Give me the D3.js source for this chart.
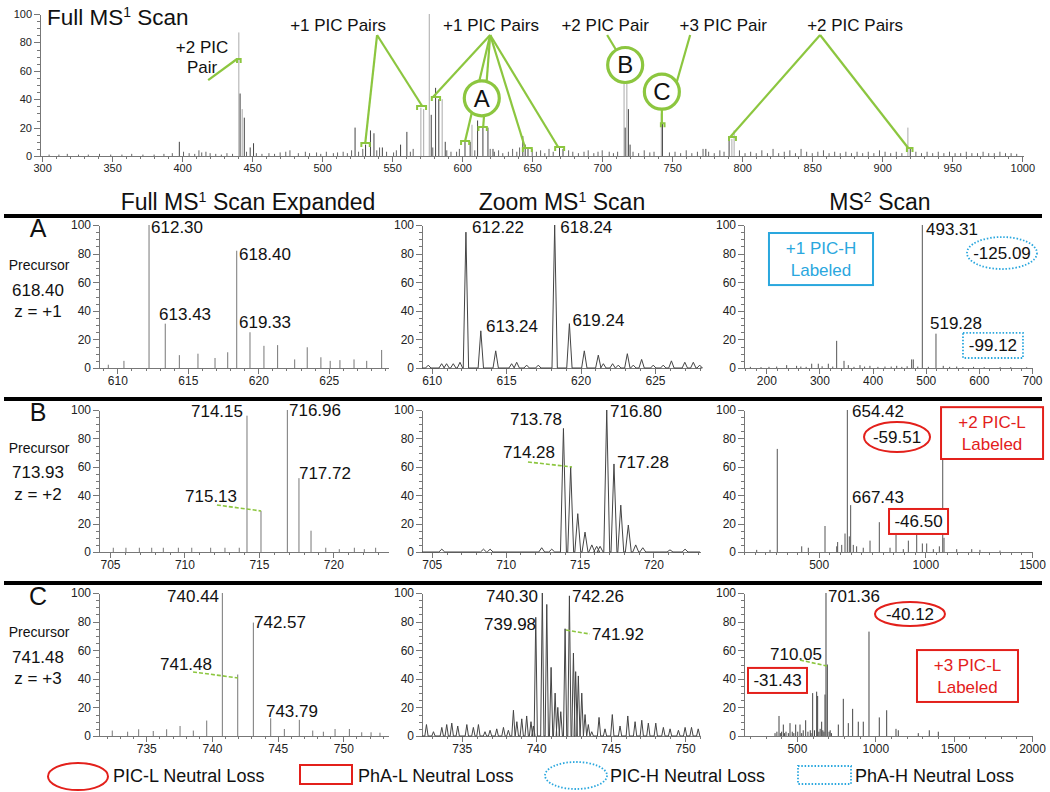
<!DOCTYPE html>
<html>
<head>
<meta charset="utf-8">
<script src="https://cdnjs.cloudflare.com/ajax/libs/d3/7.8.5/d3.min.js"></script>
<style>
body { margin: 0; background: #fff; }
text { font-family: "Liberation Sans", Arial, sans-serif; fill: #111; }
.axis path, .axis line { stroke: #777; shape-rendering: crispEdges; }
.axis text { fill: #222; }
</style>
</head>
<body>
<svg id="fig" width="1050" height="792"></svg>
<script>
// ---- data: [m/z, relative abundance] ----

// full MS1 scan (top)
var fullDark = [[398,10],[441.4,44],[444.4,27],[448.6,6],[451,9],[523.5,20],[531,8],[534.5,18],[537,16],
  [543,6],[556,8],[560.5,17],[577.9,29],[581,48],[583.3,40],[587.9,10],[602,10],[605.7,10],[611,25],
  [614.8,20],[618.4,20],[622,5],[643.3,14],[645,8],[647,5],[669.5,6],[672,5],[716.4,20],[718.7,33],
  [719.9,8],[743,24],[790.6,14],[774,5],[920,5]];
var fullLight = [[440.5,87],[442.9,33],[570.5,34],[572.5,33],[576.5,100],[585.7,40],[607,22],[715.6,72],
  [717.6,72],[742.2,30],[792.6,12],[794.2,18],[918.3,20]];
var fullNoise = [[305,1],[312,1],[318,1.5],[326,1],[333,1],[341,1.5],[349,1],[357,1],[364,1.5],[372,1],
  [380,1],[387,1.5],[393,2],[401,3],[405,2],[409,1.5],[412,4],[414,2.5],[417,3],[420,2],[424,1.5],[428,1],
  [432,2],[436,1.5],[446,3],[453,2],[457,1.5],[462,2],[466,1.5],[470,2.5],[474,3],[477,4],[483,2],[488,3],
  [491,2],[496,2.5],[499,1.5],[503,3],[508,2],[511,2.5],[515,3],[518,2],[521,4],[526,3],[529,5],[539,4],
  [541,6],[546,3],[551,2.5],[553,4],[563,3],[565,5],[579,6],[589,4],[592,3],[596,3],[598,5],[609,4],
  [620,5],[623,3],[626,4],[629,2],[633,3],[636,5],[639,3],[641,6],[650,5],[653,3],[656,4],[659,2],[662,5],
  [665,3],[676,4],[679,3],[683,2],[687,3],[690,4],[694,2],[697,3],[700,4],[705,3],[708,2],[711,3],[722,3],
  [726,2],[730,4],[734,2.5],[737,3],[748,2.5],[752,3],[756,2],[760,4],[764,2],[768,3],[772,5],[776,3],
  [780,2],[784,4],[787,3],[798,4],[802,2],[806,3],[810,2],[814,4],[818,2],[822,5],[826,2],[830,3],[834,4],
  [838,2],[842,5],[846,3],[850,2],[854,3],[858,4],[862,2],[866,3],[870,2],[874,3],[878,2],[882,3],[886,2],
  [890,3],[894,2],[898,4],[902,3],[906,2],[910,3],[914,2],[924,3],[928,2],[932,3],[936,2],[940,3],[944,2],
  [948,3],[952,2],[956,2],[960,3],[964,2],[968,2],[972,3],[976,2],[980,2],[984,3],[988,2],[992,2],[996,1.5]];

// row A (precursor 618.40, z = +1)
var a1Peaks = [[609.36,2.3],[610.47,5],[612.25,100],[613.40,31],[614.4,9],[615.72,10],[616.93,7],[617.83,11],
  [618.47,82],[619.41,25],[620.4,15.5],[621.37,16],[622.58,6],[623.47,14.5],[624.44,7.5],[625.1,5],
  [625.79,5.5],[626.79,6],[627.69,5],[628.75,12.6]];
var a2Peaks = [[609.77,2],[610.67,3],[611.0,3],[611.45,3],[611.9,4],[612.3,95],[613.3,26],[614.3,12],
  [615.37,3],[615.71,4],[616.38,2],[617.16,2],[618.26,100],[619.25,31],[620.25,12],[621.19,9],[621.53,3],
  [622.15,3],[622.53,2],[623.14,10],[623.54,2],[624.1,6],[624.88,2],[625.55,2],[626.1,5],[627.0,4],
  [627.57,4],[628.0,2]];
var a3Peaks = [[170,0.8],[190,0.6],[205,0.8],[219.5,1],[238.3,2],[257,1.5],[265,1],[275,0.8],[285.4,3],
  [297.8,3],[305,1.2],[316.7,3],[325,1],[332.4,19],[346.2,5],[354.3,2],[365,0.8],[376.3,2],[385,1],
  [395,1.5],[410,0.8],[423.3,1],[435,1],[445.4,1.5],[455,0.8],[465,1.2],[473.5,6],[476.6,6],[485,1],
  [493.6,100],[505,0.8],[519.3,24],[533,1.5],[545,0.8],[558.3,1],[570,0.6],[590,0.8],[610,0.6],[640,0.6],
  [660,0.6],[690,0.5]];

// row B (precursor 713.93, z = +2)
var b1Peaks = [[705.22,3],[706.07,3],[706.97,3],[707.8,3],[708.58,3],[709.59,3],[710.49,3],[711.76,3],
  [712.72,3],[713.68,3],[714.2,96],[715.14,29],[716.91,100],[717.69,52],[718.5,15],[719.49,3],[720.4,2],
  [721.41,3],[722.08,2],[722.84,3]];
var b2Peaks = [[705.68,2],[708.5,2],[708.95,2],[712.44,3],[713.12,2],[713.91,87],[714.4,60],[714.88,27],
  [715.37,14],[715.83,5],[716.16,4],[716.39,4],[716.84,100],[717.33,62],[717.79,33],[718.3,19],[718.8,5],
  [719.28,3],[721.12,1.5],[722.14,2]];
var b3Peaks = [[209.5,1.5],[272,1.5],[306,72.6],[420.5,4],[451.5,3],[529.7,18.3],[584.6,4],[589,7],[608,5],
  [623.5,13],[634.4,100],[643.7,11],[650,33],[662.4,5],[678,4],[709,3],[740.7,8],[784.3,21],[834.5,3],
  [862.6,12],[896.8,2],[920.4,8],[959.6,13],[986,6],[1006.4,6],[1037.5,2],[1065.7,4],[1081.5,85],
  [1087.6,10],[1147,2],[1217.5,2],[1256,1.5],[1350,1]];

// row C (precursor 741.48, z = +3)
var c1Peaks = [[732.41,3.8],[733.58,3],[734.42,4.7],[735.53,3.5],[736.55,4.7],[737.57,7],[738.58,3.8],
  [739.6,10.8],[740.79,100],[741.96,43],[743.15,79.3],[744.47,12.4],[745.51,4.9],[746.65,11.3],
  [747.67,3.8],[748.48,3],[749.37,4.9],[750.46,4.9],[751.4,2.6],[752.11,2.6],[752.79,2.3]];
var c2Peaks = [[732.63,8],[733.1,3],[733.66,6],[733.99,8],[734.33,9],[734.73,7],[735.34,8],[735.78,6],
  [736.12,8],[736.56,3],[736.9,4],[737.35,5],[737.8,6],[738.13,4],[738.47,18],[738.7,10],[739.03,12],
  [739.36,14],[739.65,10],[739.81,7],[739.97,83],[740.41,100],[740.71,92],[741.0,48],[741.27,30],
  [741.45,20],[741.65,17],[741.94,75],[742.23,98],[742.5,58],[742.65,45],[742.83,42],[743.06,30],
  [743.28,15],[743.5,8],[743.73,3],[744.22,13],[744.62,5],[745.11,15],[745.63,7],[746.15,14],[746.64,10],
  [747.09,11],[747.53,9],[748.03,9],[748.54,6],[748.99,5],[749.55,4],[750.0,6],[750.43,6],[750.88,5]];
var c3Peaks = [[360,2],[372,3],[385.4,14],[394,2],[402,3],[412.9,8],[420,2],[430,3],[445,2],[455.6,9],
  [470,3],[480,2],[491.8,8],[505,3],[519.4,8],[530,2],[540,4],[555.5,11],[570,3],[585,4],[590,2],
  [600.2,30],[612,4],[625.7,31],[632,28],[640,3],[648,5],[657.6,10],[665,4],[672,3],[678.9,29],[685.3,100],
  [693.8,50],[705,3],[712,4],[720,2],[763.9,8],[795.8,26],[827.7,9],[855.4,19],[891.4,10],[923.3,10],
  [959.7,73],[1025.4,13],[1072.6,18],[1132,5],[1146.7,4],[1274.3,2],[1344.5,4],[1402,3]];

// precursor info per row
var precursors = ["618.40", "713.93", "741.48"];
var charges = ["z = +1", "z = +2", "z = +3"];
var rowNames = ["A", "B", "C"];

var green = "#8cc63f", red = "#e3201b", cyan = "#2aa7de";

var svg = d3.select("#fig");
svg.append("rect").attr("width", 1050).attr("height", 792).attr("fill", "#fff");

function axes(g, x, y, major, minorStep, fs) {
  var d = x.domain();
  var minor = d3.range(Math.ceil(d[0] / minorStep) * minorStep, d[1] + 1e-9, minorStep);
  var gx = g.append("g").attr("class", "axis").attr("transform", "translate(0," + y(0) + ")");
  gx.call(d3.axisBottom(x).tickValues(minor).tickSize(3).tickFormat("").tickSizeOuter(0));
  gx.append("g").call(d3.axisBottom(x).tickValues(major).tickSize(6).tickSizeOuter(0).tickPadding(2)
      .tickFormat(d3.format("d")))
    .call(function (s) { s.select(".domain").remove(); })
    .selectAll("text").style("font-size", fs + "px");
  var gy = g.append("g").attr("class", "axis").attr("transform", "translate(" + x.range()[0] + ",0)");
  gy.call(d3.axisLeft(y).tickValues(d3.range(0, 101, 5)).tickSize(3).tickFormat("").tickSizeOuter(0));
  gy.append("g").call(d3.axisLeft(y).tickValues(d3.range(0, 101, 20)).tickSize(6).tickPadding(2))
    .call(function (s) { s.select(".domain").remove(); })
    .selectAll("text").style("font-size", fs + "px");
}

function sticks(g, x, y, data, color) {
  g.append("g").selectAll("line").data(data).join("line")
    .attr("x1", function (d) { return x(d[0]); })
    .attr("x2", function (d) { return x(d[0]); })
    .attr("y1", y(0))
    .attr("y2", function (d) { return y(d[1]); })
    .attr("stroke", color).attr("stroke-width", 1);
}

// profile trace: each peak drawn as a narrow triangle on the baseline
function profile(g, x, y, data, hw) {
  var pts = [[x.domain()[0], 0]];
  data.slice().sort(function (a, b) { return a[0] - b[0]; }).forEach(function (d) {
    pts.push([d[0] - hw, 0], [d[0], d[1]], [d[0] + hw, 0]);
  });
  pts.push([x.domain()[1], 0]);
  g.append("path").datum(pts)
    .attr("d", d3.line().x(function (d) { return x(d[0]); }).y(function (d) { return y(d[1]); }))
    .attr("fill", "none").attr("stroke", "#444").attr("stroke-width", 1);
}

function label(g, x, y, t, mz, v, anchor, fs, fill) {
  return g.append("text").attr("x", x(mz)).attr("y", y(v))
    .attr("text-anchor", anchor || "start")
    .style("font-size", (fs || 17) + "px").style("fill", fill || "#111").text(t);
}

function dashed(g, x, y, p, q) {
  g.append("line").attr("x1", x(p[0])).attr("y1", y(p[1])).attr("x2", x(q[0])).attr("y2", y(q[1]))
    .attr("stroke", green).attr("stroke-width", 1.6).attr("stroke-dasharray", "4,2");
}

function ellipse(g, cx, cy, rx, ry, color, dotted, t) {
  g.append("ellipse").attr("cx", cx).attr("cy", cy).attr("rx", rx).attr("ry", ry)
    .attr("fill", "#fff").attr("stroke", color).attr("stroke-width", dotted ? 1.8 : 2)
    .attr("stroke-dasharray", dotted ? "1.5,1.8" : null);
  if (t) g.append("text").attr("x", cx).attr("y", cy + 6).attr("text-anchor", "middle")
    .style("font-size", "17px").text(t);
}

function box(g, x0, y0, x1, y1, color, dotted, lines, tColor) {
  g.append("rect").attr("x", Math.min(x0, x1)).attr("y", Math.min(y0, y1))
    .attr("width", Math.abs(x1 - x0)).attr("height", Math.abs(y1 - y0))
    .attr("fill", "#fff").attr("stroke", color).attr("stroke-width", dotted ? 1.8 : 2)
    .attr("stroke-dasharray", dotted ? "1.5,1.8" : null);
  if (!lines) return;
  var cx = (x0 + x1) / 2, cy = (y0 + y1) / 2;
  if (lines.length === 1) {
    g.append("text").attr("x", cx).attr("y", cy + 6).attr("text-anchor", "middle")
      .style("font-size", "17px").style("fill", tColor || "#111").text(lines[0]);
  } else {
    lines.forEach(function (l, i) {
      g.append("text").attr("x", cx).attr("y", cy - 5 + i * 22).attr("text-anchor", "middle")
        .style("font-size", "17px").style("fill", tColor || "#111").text(l);
    });
  }
}

function supText(g, xp, yp, pre, sup, post, fs, anchor) {
  var t = g.append("text").attr("x", xp).attr("y", yp).attr("text-anchor", anchor || "start")
    .style("font-size", fs + "px");
  t.append("tspan").text(pre);
  t.append("tspan").attr("dy", -fs * 0.36).style("font-size", (fs * 0.62) + "px").text(sup);
  t.append("tspan").attr("dy", fs * 0.36).text(post);
}

// ---------------- top: full MS1 scan ----------------
var topG = svg.append("g");
var xT = d3.scaleLinear().domain([298.5, 1000.5]).range([40, 1023]);
var yT = d3.scaleLinear().domain([0, 100]).range([156, 14]);
axes(topG, xT, yT, d3.range(300, 1001, 50), 10, 11);
sticks(topG, xT, yT, fullNoise, "#666");
sticks(topG, xT, yT, fullLight, "#aaa");
sticks(topG, xT, yT, fullDark, "#444");
supText(topG, xT(303.5), yT(92.3), "Full MS", "1", " Scan", 22.5);

// callout lines: [from, to] in data units
var calloutLines = [
  [[418.6, 53.5], [439.2, 68.3]],
  [[539.2, 85.2], [530.8, 9.2]], [[539.2, 85.2], [571.4, 35.2]],
  [[620.0, 85.2], [579.2, 41.5]], [[620.0, 85.2], [602.1, 10.6]], [[620.0, 85.2], [615.0, 20.4]],
  [[620.0, 85.2], [645.0, 5.6]], [[620.0, 85.2], [668.5, 6.3]],
  [[703.5, 85.2], [716.4, 64.1]],
  [[762.8, 85.2], [752.4, 49.3]], [[742.6, 45.3], [742.6, 23]],
  [[855.6, 85.2], [791.4, 13.4]], [[855.6, 85.2], [918.5, 5.6]]
];
var brackets = [[439.2, 441.8, 68.3], [528, 534, 9.2], [567.8, 574.2, 35.2], [578.3, 584.2, 41.5],
  [599.2, 605, 10.6], [611.6, 617.6, 20.4], [643.3, 649.7, 5.6], [666.4, 672.8, 6.3],
  [741.9, 744.5, 23], [790.6, 795.5, 13.4], [917.6, 921.6, 5.6]];
topG.append("g").selectAll("line").data(calloutLines).join("line")
  .attr("x1", function (d) { return xT(d[0][0]); }).attr("y1", function (d) { return yT(d[0][1]); })
  .attr("x2", function (d) { return xT(d[1][0]); }).attr("y2", function (d) { return yT(d[1][1]); })
  .attr("stroke", green).attr("stroke-width", 2.2);
topG.append("g").selectAll("path").data(brackets).join("path")
  .attr("d", function (d) {
    var a = xT(d[0]), b = xT(d[1]), t = yT(d[2]);
    return "M" + a + "," + (t + 4) + "V" + t + "H" + b + "V" + (t + 4);
  })
  .attr("fill", "none").attr("stroke", green).attr("stroke-width", 2);

var circles = [["A", 614.0, 40.6], ["B", 716.4, 64.1], ["C", 742.6, 45.3]];
circles.forEach(function (c) {
  topG.append("circle").attr("cx", xT(c[1])).attr("cy", yT(c[2])).attr("r", 17.5)
    .attr("fill", "#fff").attr("stroke", green).attr("stroke-width", 3.2);
  topG.append("text").attr("x", xT(c[1])).attr("y", yT(c[2]) + 8.5).attr("text-anchor", "middle")
    .style("font-size", "24px").text(c[0]);
});
var topTexts = [["+2 PIC", 414.2, 72.5], ["Pair", 414.2, 58.3], ["+1 PIC Pairs", 511.4, 87.7],
  ["+1 PIC Pairs", 620.6, 87.7], ["+2 PIC Pair", 702.1, 87.7], ["+3 PIC Pair", 786.4, 87.7],
  ["+2 PIC Pairs", 880.6, 87.7]];
topTexts.forEach(function (t) { label(topG, xT, yT, t[0], t[1], t[2], "middle", 17); });

// ---------------- section headers and separators ----------------
supText(svg, 248, 210, "Full MS", "1", " Scan Expanded", 23, "middle");
supText(svg, 562, 210, "Zoom MS", "1", " Scan", 23, "middle");
supText(svg, 880, 210, "MS", "2", " Scan", 23, "middle");
[216, 399, 583].forEach(function (yy) {
  svg.append("line").attr("x1", 4).attr("x2", 1042).attr("y1", yy).attr("y2", yy)
    .attr("stroke", "#000").attr("stroke-width", 4);
});

var rowY = [[368, 225], [552, 410], [736, 593]];
var rowText = [[237, 270, 296, 317], [421, 453, 478, 500], [605, 637, 663, 684]];
rowNames.forEach(function (n, i) {
  var r = rowText[i];
  svg.append("text").attr("x", 38).attr("y", r[0]).attr("text-anchor", "middle").style("font-size", "25px").text(n);
  svg.append("text").attr("x", 39).attr("y", r[1]).attr("text-anchor", "middle").style("font-size", "14px").text("Precursor");
  svg.append("text").attr("x", 38).attr("y", r[2]).attr("text-anchor", "middle").style("font-size", "17px").text(precursors[i]);
  svg.append("text").attr("x", 38).attr("y", r[3]).attr("text-anchor", "middle").style("font-size", "17px").text(charges[i]);
});

var colX = [[99, 388], [422, 700], [744, 1032]];
function panel(row, col, domain, major, minorStep) {
  var g = svg.append("g");
  var x = d3.scaleLinear().domain(domain).range(colX[col]);
  var y = d3.scaleLinear().domain([0, 100]).range(rowY[row]);
  axes(g, x, y, major, minorStep, 12);
  return { g: g, x: x, y: y };
}

// ---- row A ----
var pA1 = panel(0, 0, [608.7, 629.2], [610, 615, 620, 625], 1);
sticks(pA1.g, pA1.x, pA1.y, a1Peaks, "#777");
[["612.30", 612.39, 94.2], ["613.43", 612.96, 33.6], ["618.40", 618.63, 75.5], ["619.33", 618.63, 27.8]]
  .forEach(function (l) { label(pA1.g, pA1.x, pA1.y, l[0], l[1], l[2], "start"); });

var pA2 = panel(0, 1, [609.35, 628.02], [610, 615, 620, 625], 1);
profile(pA2.g, pA2.x, pA2.y, a2Peaks, 0.18);
[["612.22", 612.71, 94.4], ["613.24", 613.65, 25.4], ["618.24", 618.64, 94.2], ["619.24", 619.45, 29.4]]
  .forEach(function (l) { label(pA2.g, pA2.x, pA2.y, l[0], l[1], l[2], "start"); });

var pA3 = panel(0, 2, [158, 700], [200, 300, 400, 500, 600, 700], 20);
sticks(pA3.g, pA3.x, pA3.y, a3Peaks, "#555");
label(pA3.g, pA3.x, pA3.y, "493.31", 500.5, 93, "start");
label(pA3.g, pA3.x, pA3.y, "519.28", 508, 27.3, "start");
box(pA3.g, pA3.x(205), pA3.y(94.4), pA3.x(400.8), pA3.y(58), cyan, false, ["+1 PIC-H", "Labeled"], cyan);
ellipse(pA3.g, pA3.x(643.5), pA3.y(80.4), 35, 16, cyan, true, "-125.09");
box(pA3.g, pA3.x(570.1), pA3.y(24.5), pA3.x(683), pA3.y(7.0), cyan, true, ["-99.12"]);

// ---- row B ----
var pB1 = panel(1, 0, [704.26, 723.67], [705, 710, 715, 720], 1);
sticks(pB1.g, pB1.x, pB1.y, b1Peaks, "#777");
label(pB1.g, pB1.x, pB1.y, "714.15", 713.93, 95, "end");
label(pB1.g, pB1.x, pB1.y, "716.96", 717.02, 95.8, "start");
label(pB1.g, pB1.x, pB1.y, "717.72", 717.69, 51.4, "start");
label(pB1.g, pB1.x, pB1.y, "715.13", 713.53, 35.2, "end");
dashed(pB1.g, pB1.x, pB1.y, [712.18, 33.1], [715.14, 28.9]);

var pB2 = panel(1, 1, [704.34, 723.15], [705, 710, 715, 720], 1);
profile(pB2.g, pB2.x, pB2.y, b2Peaks, 0.2);
label(pB2.g, pB2.x, pB2.y, "713.78", 713.81, 89.4, "end");
label(pB2.g, pB2.x, pB2.y, "714.28", 713.34, 66.2, "end");
dashed(pB2.g, pB2.x, pB2.y, [711.51, 63.4], [714.49, 59.9]);
label(pB2.g, pB2.x, pB2.y, "716.80", 717.06, 95, "start");
label(pB2.g, pB2.x, pB2.y, "717.28", 717.53, 59.2, "start");

var pB3 = panel(1, 2, [150, 1500], [500, 1000, 1500], 50);
sticks(pB3.g, pB3.x, pB3.y, b3Peaks, "#555");
label(pB3.g, pB3.x, pB3.y, "654.42", 656.3, 95, "start");
label(pB3.g, pB3.x, pB3.y, "667.43", 656.3, 34.5, "start");
ellipse(pB3.g, pB3.x(867.3), pB3.y(81), 33, 15, red, false, "-59.51");
box(pB3.g, pB3.x(829.8), pB3.y(30.3), pB3.x(1106.4), pB3.y(12.7), red, false, ["-46.50"]);
box(pB3.g, pB3.x(1073.6), pB3.y(102), pB3.x(1551.8), pB3.y(65.5), red, false, ["+2 PIC-L", "Labeled"], red);

// ---- row C ----
var pC1 = panel(2, 0, [731.4, 753.4], [735, 740, 745, 750], 1);
sticks(pC1.g, pC1.x, pC1.y, c1Peaks, "#777");
label(pC1.g, pC1.x, pC1.y, "740.44", 740.54, 93.7, "end");
label(pC1.g, pC1.x, pC1.y, "742.57", 743.2, 75.5, "start");
label(pC1.g, pC1.x, pC1.y, "741.48", 740.0, 46.2, "end");
dashed(pC1.g, pC1.x, pC1.y, [738.56, 44.8], [741.98, 40.6]);
label(pC1.g, pC1.x, pC1.y, "743.79", 744.11, 13.3, "start");

var pC2 = panel(2, 1, [732.33, 751.0], [735, 740, 745, 750], 1);
profile(pC2.g, pC2.x, pC2.y, c2Peaks, 0.11);
label(pC2.g, pC2.x, pC2.y, "740.30", 740.12, 93.7, "end");
label(pC2.g, pC2.x, pC2.y, "742.26", 742.4, 93.7, "start");
label(pC2.g, pC2.x, pC2.y, "739.98", 739.99, 74.1, "end");
label(pC2.g, pC2.x, pC2.y, "741.92", 743.75, 67.1, "start");
dashed(pC2.g, pC2.x, pC2.y, [742.0, 74.1], [743.61, 71.3]);

var pC3 = panel(2, 2, [162, 2000], [500, 1000, 1500, 2000], 100);
sticks(pC3.g, pC3.x, pC3.y, c3Peaks, "#444");
label(pC3.g, pC3.x, pC3.y, "701.36", 698, 93.7, "start");
label(pC3.g, pC3.x, pC3.y, "710.05", 659.8, 53.1, "end");
dashed(pC3.g, pC3.x, pC3.y, [519.4, 53.1], [691.7, 49]);
ellipse(pC3.g, pC3.x(1221.3), pC3.y(85.3), 35, 12, red, false, "-40.12");
box(pC3.g, pC3.x(187.5), pC3.y(47.6), pC3.x(564), pC3.y(30.1), red, false, ["-31.43"]);
box(pC3.g, pC3.x(1266), pC3.y(60.1), pC3.x(1910.6), pC3.y(23.8), red, false, ["+3 PIC-L", "Labeled"], red);

// ---------------- legend ----------------
var leg = svg.append("g");
ellipse(leg, 78, 776.5, 30, 13.5, red, false);
leg.append("text").attr("x", 113).attr("y", 782).style("font-size", "18px").text("PIC-L Neutral Loss");
box(leg, 300, 765, 352, 784, red, false);
leg.append("text").attr("x", 358).attr("y", 782).style("font-size", "18px").text("PhA-L Neutral Loss");
ellipse(leg, 576, 775.5, 31, 13.5, cyan, true);
leg.append("text").attr("x", 610).attr("y", 782).style("font-size", "18px").text("PIC-H Neutral Loss");
box(leg, 798, 766, 851, 784, cyan, true);
leg.append("text").attr("x", 855).attr("y", 782).style("font-size", "18px").text("PhA-H Neutral Loss");
</script>
</body>
</html>
